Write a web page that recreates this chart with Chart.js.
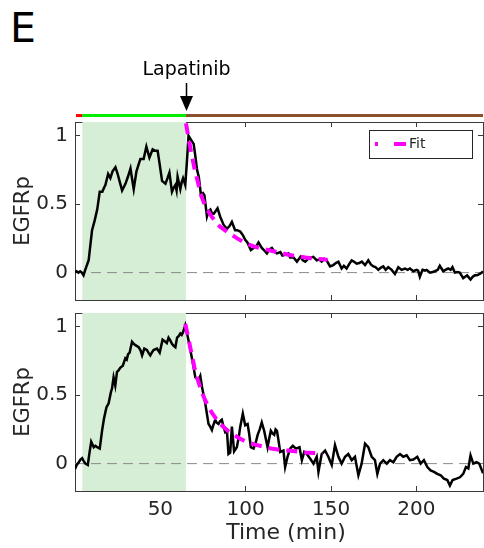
<!DOCTYPE html>
<html>
<head>
<meta charset="utf-8">
<script src="https://cdn.jsdelivr.net/npm/chart.js@4.4.1/dist/chart.umd.min.js"></script>
<style>
  html, body { margin: 0; padding: 0; background: #fff; }
  #fig { position: relative; width: 484px; height: 548px; overflow: hidden; font-family: "DejaVu Sans", sans-serif; }
  #panelLetter { position: absolute; left: 10px; top: 8px; font-size: 41px; line-height: 41px; color: #000; }
  #topBox { position: absolute; left: 0; top: 0; width: 484px; height: 303px; }
  #botBox { position: absolute; left: 0; top: 280px; width: 484px; height: 268px; }
</style>
</head>
<body>
<div id="fig">
  <div id="panelLetter">E</div>
  <div id="topBox"><canvas id="egfrTop" width="484" height="303"></canvas></div>
  <div id="botBox"><canvas id="egfrBottom" width="484" height="268"></canvas></div>
</div>
<script>
// ── data (time in min, EGFRp normalised) ──
const topTime = [0, 1, 2, 3, 4, 5, 6, 8, 9, 10, 11.5, 13, 14.5, 16, 17, 17.8, 19.4, 20.7, 22, 23.7,
  25, 26.5, 27.6, 29.6, 31, 32.5, 33.5, 34.4, 36, 37, 38.3, 40.2, 41.8, 43.6, 45.5, 47, 48.4, 49.5, 51, 53,
  54.2, 55.3, 56.8, 57.8, 58.8, 59.5, 60.1, 61.7, 62.5, 63.3, 64.6, 65.5, 66.5, 68, 69.5, 70.5, 71.5, 72.5, 73.8, 75,
  75.8, 77.3, 78.3, 79.3, 80.3, 81.3, 83.5, 85, 87, 89, 90.5, 91.9, 93.8, 95, 96.8, 98.5, 99.7, 101, 103, 104.6,
  106, 107.5, 109.4, 111, 112.4, 113.8, 115.3, 117, 118.3, 120.3, 121.5, 123.1, 125, 126, 128, 130, 132, 133.5, 134.9, 136.5,
  137.7, 139.6, 141.6, 143, 144.5, 146, 147.4, 149.4, 151.3, 152.8, 154.3, 156.2, 157.5, 159.1, 160.5, 162.1, 163.5, 165, 166.5, 168,
  169.9, 171.8, 173.3, 174.8, 176, 177.7, 179, 180.6, 182, 183.5, 185.5, 187.4, 189.4, 191.3, 193.3, 194.8, 196.2, 198.2, 200.1, 201,
  202, 203.6, 205, 206, 207.9, 209.5, 210.8, 212.5, 213.7, 215.7, 217, 218.6, 220, 221.1, 222.5, 224, 225.4, 227.4, 228.5, 229.7,
  231, 231.7, 233, 234.2, 235.5, 237.1, 238.3, 239];
const topEgfr = [0.0, 0.01, 0.0, 0.01, 0.0, -0.02, 0.02, 0.09, 0.2, 0.31, 0.38, 0.46, 0.59, 0.59, 0.62, 0.64, 0.72, 0.69, 0.74, 0.77,
  0.72, 0.65, 0.60, 0.65, 0.70, 0.76, 0.68, 0.61, 0.74, 0.78, 0.83, 0.83, 0.92, 0.84, 0.90, 0.89, 0.89, 0.80, 0.67, 0.65,
  0.69, 0.73, 0.59, 0.62, 0.64, 0.60, 0.70, 0.61, 0.66, 0.69, 0.64, 0.80, 1.0, 0.97, 0.94, 0.85, 0.75, 0.70, 0.565, 0.58,
  0.565, 0.41, 0.45, 0.46, 0.43, 0.43, 0.47, 0.41, 0.35, 0.32, 0.34, 0.37, 0.31, 0.31, 0.30, 0.27, 0.24, 0.22, 0.165, 0.18,
  0.19, 0.22, 0.18, 0.16, 0.14, 0.17, 0.18, 0.15, 0.14, 0.15, 0.125, 0.13, 0.14, 0.11, 0.11, 0.08, 0.115, 0.09, 0.08, 0.10,
  0.11, 0.115, 0.09, 0.095, 0.08, 0.10, 0.09, 0.045, 0.055, 0.07, 0.08, 0.03, 0.05, 0.03, 0.06, 0.09, 0.08, 0.065, 0.07, 0.08,
  0.055, 0.09, 0.06, 0.045, 0.04, 0.02, 0.035, 0.045, 0.02, 0.04, 0.02, -0.01, 0.04, 0.02, 0.03, 0.02, 0.03, 0.01, 0.02, 0.015,
  -0.03, 0.02, 0.015, 0.02, 0.0, 0.005, 0.01, 0.02, 0.05, 0.01, 0.02, 0.03, 0.02, 0.04, 0.0, 0.005, 0.0, -0.04, -0.03, -0.02,
  -0.04, -0.05, -0.03, -0.02, -0.02, -0.01, 0.0, 0.01];
const topFitTime = [65, 66, 67, 68, 69, 70, 72, 74, 76, 78, 80, 82.5, 85, 90, 95, 100, 105, 110, 115, 120, 125, 130, 135, 140, 145, 148];
const topFit = [1.09, 1.02, 0.95, 0.88, 0.82, 0.76, 0.66, 0.56, 0.495, 0.45, 0.41, 0.37, 0.335, 0.29, 0.25, 0.215, 0.19, 0.175, 0.16, 0.145, 0.13, 0.12, 0.11, 0.103, 0.097, 0.093];

const botTime = [0, 1, 2.2, 3.2, 4.2, 5, 6.1, 7.5, 8.5, 9.5, 11, 12, 13, 14.5, 15.9, 17, 18.4, 19.7, 21, 21.7,
  22.6, 23.6, 24.6, 25.5, 26.5, 28, 29.5, 30.3, 31.1, 32, 33.4, 34.4, 35.4, 37.3, 38.3, 39.3, 40.6, 42.1, 43, 44.1,
  45, 46, 48, 49.6, 50.5, 51.3, 52.9, 53.8, 54.8, 55.8, 56.8, 57.8, 58.8, 59.8, 60.7, 61.7, 62.5, 63.3, 64.6, 65.5,
  66.5, 68.5, 70.5, 72.4, 73.4, 74.4, 76.3, 78.2, 79.2, 80.2, 81, 82.1, 83, 84.1, 85, 86, 87, 88, 89, 89.9,
  90.9, 91.9, 93.2, 94.8, 96, 96.8, 98.3, 99.7, 101.1, 102, 103, 104.6, 105.8, 107, 108.2, 109.4, 110.8, 111.8, 112.8, 113.7,
  114.7, 115.7, 116.7, 117.5, 118.3, 119.2, 120.2, 122.1, 123.1, 124.5, 126, 127.6, 128.5, 129.5, 131.5, 132.9, 134.3, 135.8, 137.8, 139.7,
  141.6, 142.6, 144.5, 146.5, 148.4, 150.4, 152.3, 154.3, 156.2, 158.2, 160.1, 162.1, 164, 166, 167.9, 169.9, 171.8, 173.8, 175.7, 177.1,
  178.7, 180.6, 182.6, 184.5, 186.5, 188.4, 190.4, 192.3, 194.3, 196.2, 198.2, 200.5, 202.5, 204.4, 206.4, 208.3, 210.3, 212.2, 214.2, 216.1,
  218.1, 219.6, 221.2, 223.5, 225.5, 227.4, 229, 230.4, 231.7, 233.3, 235.2, 236.8, 238.7, 239];
const botEgfr = [-0.04, -0.01, 0.01, 0.03, 0.04, 0.02, 0.0, -0.01, 0.08, 0.16, 0.12, 0.13, 0.12, 0.11, 0.245, 0.33, 0.41, 0.44, 0.52, 0.55,
  0.63, 0.57, 0.67, 0.68, 0.70, 0.715, 0.77, 0.76, 0.80, 0.81, 0.89, 0.875, 0.865, 0.85, 0.83, 0.79, 0.84, 0.83, 0.81, 0.79,
  0.81, 0.83, 0.84, 0.81, 0.86, 0.905, 0.89, 0.88, 0.92, 0.90, 0.875, 0.86, 0.85, 0.92, 0.93, 0.95, 0.94, 0.96, 1.01, 0.96,
  0.90, 0.77, 0.63, 0.61, 0.64, 0.56, 0.44, 0.29, 0.27, 0.245, 0.28, 0.32, 0.30, 0.29, 0.31, 0.32, 0.27, 0.23, 0.24, 0.07,
  0.08, 0.27, 0.09, 0.12, 0.20, 0.27, 0.365, 0.28, 0.29, 0.22, 0.12, 0.11, 0.15, 0.21, 0.25, 0.30, 0.24, 0.18, 0.12, 0.18,
  0.24, 0.22, 0.21, 0.25, 0.24, 0.17, 0.085, 0.095, -0.025, 0.05, 0.11, 0.13, 0.12, 0.11, 0.12, 0.025, 0.085, 0.07, 0.035, 0.0,
  0.05, -0.06, 0.07, 0.095, 0.05, -0.01, 0.135, 0.05, 0.0, 0.05, 0.07, 0.025, 0.05, -0.085, 0.0, 0.145, 0.12, 0.05, 0.025, -0.075,
  0.0, 0.025, 0.0, 0.025, 0.01, 0.05, 0.07, 0.05, 0.06, 0.025, 0.03, 0.05, 0.0, 0.025, -0.025, -0.05, -0.06, -0.075, -0.085, -0.11,
  -0.12, -0.16, -0.12, -0.11, -0.10, -0.075, -0.025, -0.035, 0.06, 0.0, 0.01, 0.0, -0.06, -0.07];
const botFitTime = [64.6, 66, 68, 70, 72, 74, 76, 78, 80, 82.5, 85, 90, 95, 100, 105, 110, 115, 120, 125, 130, 135, 140, 145];
const botFit = [1.02, 0.94, 0.82, 0.70, 0.61, 0.53, 0.47, 0.42, 0.375, 0.33, 0.29, 0.235, 0.195, 0.16, 0.14, 0.125, 0.11, 0.10, 0.095, 0.088, 0.082, 0.078, 0.075];

const xTicks = [50, 100, 150, 200];
const yTicks = [0, 0.5, 1];
const xLimits = [0, 239];
const yLimits = [-0.2, 1.1];
const egfWindow = [4.2, 65];          // green shaded stimulation period
const lapatinibTime = 65;
const phaseEdges = [0.6, 4.2, 65, 239]; // red / green / brown treatment bar
const phaseColors = ['#ff0000', '#00ee00', '#8b5030'];
const phaseLevel = 1.147;

const FONT = '"DejaVu Sans", sans-serif';
const INK = '#262626';
const FRAME = '#3a3a3a';

const pts = (xs, ys) => xs.map((x, i) => ({ x, y: ys[i] }));

function baseDatasets(time, egfr, fitTime, fit) {
  return [
    { label: 'Fit', data: pts(fitTime, fit), borderColor: '#ff00ff', borderWidth: 4,
      borderDash: [11, 7], order: 1 },
    { label: 'EGFRp', data: pts(time, egfr), borderColor: '#000', borderWidth: 2.5, order: 2 },
    { label: 'zero', data: pts(xLimits, [0, 0]), borderColor: '#8a8a8a', borderWidth: 1,
      borderDash: [10, 6], order: 4 },
    { label: 'EGF', data: pts(egfWindow, [yLimits[1], yLimits[1]]), borderWidth: 0,
      backgroundColor: '#d5eed5', fill: 'start', order: 5 },
  ];
}

function scalesFor(showX, xHeight) {
  const border = { display: true, color: FRAME, width: 1 };
  const inward = { display: true, drawOnChartArea: false, drawTicks: true, tickLength: -5, color: FRAME };
  const setTicks = vals => scale => { scale.ticks = vals.map(value => ({ value })); };
  const fixSize = (w, h) => scale => {
    if (w !== null) scale.width = w;
    if (h !== null) scale.height = h;
    scale.paddingTop = scale.paddingBottom = scale.paddingLeft = scale.paddingRight = 0;
  };
  return {
    x: {
      type: 'linear', position: 'bottom', min: xLimits[0], max: xLimits[1],
      border, grid: inward,
      ticks: { display: showX, padding: 12, color: INK, font: { family: FONT, size: 20 }, callback: v => String(v) },
      title: { display: showX, text: '  Time (min)', color: INK, font: { family: FONT, size: 22 }, padding: { top: 0, bottom: 0 } },
      afterBuildTicks: setTicks(xTicks), afterFit: fixSize(null, xHeight),
    },
    x2: {
      type: 'linear', position: 'top', min: xLimits[0], max: xLimits[1],
      border, grid: inward, ticks: { display: false },
      afterBuildTicks: setTicks(xTicks), afterFit: fixSize(null, 0),
    },
    y: {
      type: 'linear', position: 'left', min: yLimits[0], max: yLimits[1],
      border, grid: inward,
      ticks: { padding: 12, color: INK, font: { family: FONT, size: 20 }, callback: v => String(v) },
      title: { display: true, text: 'EGFRp', color: INK, font: { family: FONT, size: 21 }, padding: { top: 11, bottom: 0 } },
      afterBuildTicks: setTicks(yTicks), afterFit: fixSize(75, null),
    },
    y2: {
      type: 'linear', position: 'right', min: yLimits[0], max: yLimits[1],
      border, grid: inward, ticks: { display: false },
      afterBuildTicks: setTicks(yTicks), afterFit: fixSize(0, null),
    },
  };
}

const commonOptions = (showX, xHeight, padding) => ({
  responsive: false,
  animation: false,
  devicePixelRatio: 1,
  layout: { padding },
  elements: { point: { radius: 0 }, line: { tension: 0 } },
  plugins: { legend: { display: false }, tooltip: { enabled: false } },
  scales: scalesFor(showX, xHeight),
});

// Lapatinib arrow + boxed legend (top panel only)
const topDecor = {
  id: 'topDecor',
  afterDraw(chart) {
    const { ctx, chartArea: area, scales: { x } } = chart;
    const px = Math.round(x.getPixelForValue(lapatinibTime)) + 0.5;
    ctx.save();
    ctx.fillStyle = '#000';
    ctx.font = `19px ${FONT}`;
    ctx.textAlign = 'center';
    ctx.textBaseline = 'alphabetic';
    ctx.fillText('Lapatinib', px, 75);
    ctx.strokeStyle = '#000';
    ctx.lineWidth = 1.5;
    ctx.beginPath(); ctx.moveTo(px, 83); ctx.lineTo(px, 99); ctx.stroke();
    ctx.beginPath(); ctx.moveTo(px - 6.5, 96); ctx.lineTo(px + 6.5, 96); ctx.lineTo(px, 111); ctx.closePath(); ctx.fill();

    const fit = chart.data.datasets.find(d => d.label === 'Fit');
    const bx = area.right - 114, by = area.top + 8, bw = 103, bh = 28;
    ctx.fillStyle = '#fff';
    ctx.fillRect(bx, by, bw, bh);
    ctx.strokeStyle = INK;
    ctx.lineWidth = 1;
    ctx.strokeRect(bx + 0.5, by + 0.5, bw, bh);
    ctx.strokeStyle = fit.borderColor;
    ctx.lineWidth = 4;
    ctx.setLineDash([3, 16, 12, 40]);
    ctx.beginPath(); ctx.moveTo(bx + 6, by + 14); ctx.lineTo(bx + 37, by + 14); ctx.stroke();
    ctx.setLineDash([]);
    ctx.fillStyle = INK;
    ctx.font = `14px ${FONT}`;
    ctx.textAlign = 'left';
    ctx.textBaseline = 'middle';
    ctx.fillText(fit.label, bx + 40, by + 14.5);
    ctx.restore();
  },
};

// ── top panel ──
const phaseBars = phaseColors.map((c, i) => ({
  label: 'phase' + i,
  data: pts([phaseEdges[i], phaseEdges[i + 1]], [phaseLevel, phaseLevel]),
  borderColor: c, borderWidth: 3, clip: false, order: 3,
}));
new Chart(document.getElementById('egfrTop'), {
  type: 'line',
  data: { datasets: [...baseDatasets(topTime, topEgfr, topFitTime, topFit), ...phaseBars] },
  options: commonOptions(false, 0, { top: 122, left: 0, right: 1, bottom: 3 }),
  plugins: [topDecor],
});

// ── bottom panel ──
new Chart(document.getElementById('egfrBottom'), {
  type: 'line',
  data: { datasets: baseDatasets(botTime, botEgfr, botFitTime, botFit) },
  options: commonOptions(true, 55, { top: 33, left: 0, right: 1, bottom: 2 }),
});
</script>
</body>
</html>
